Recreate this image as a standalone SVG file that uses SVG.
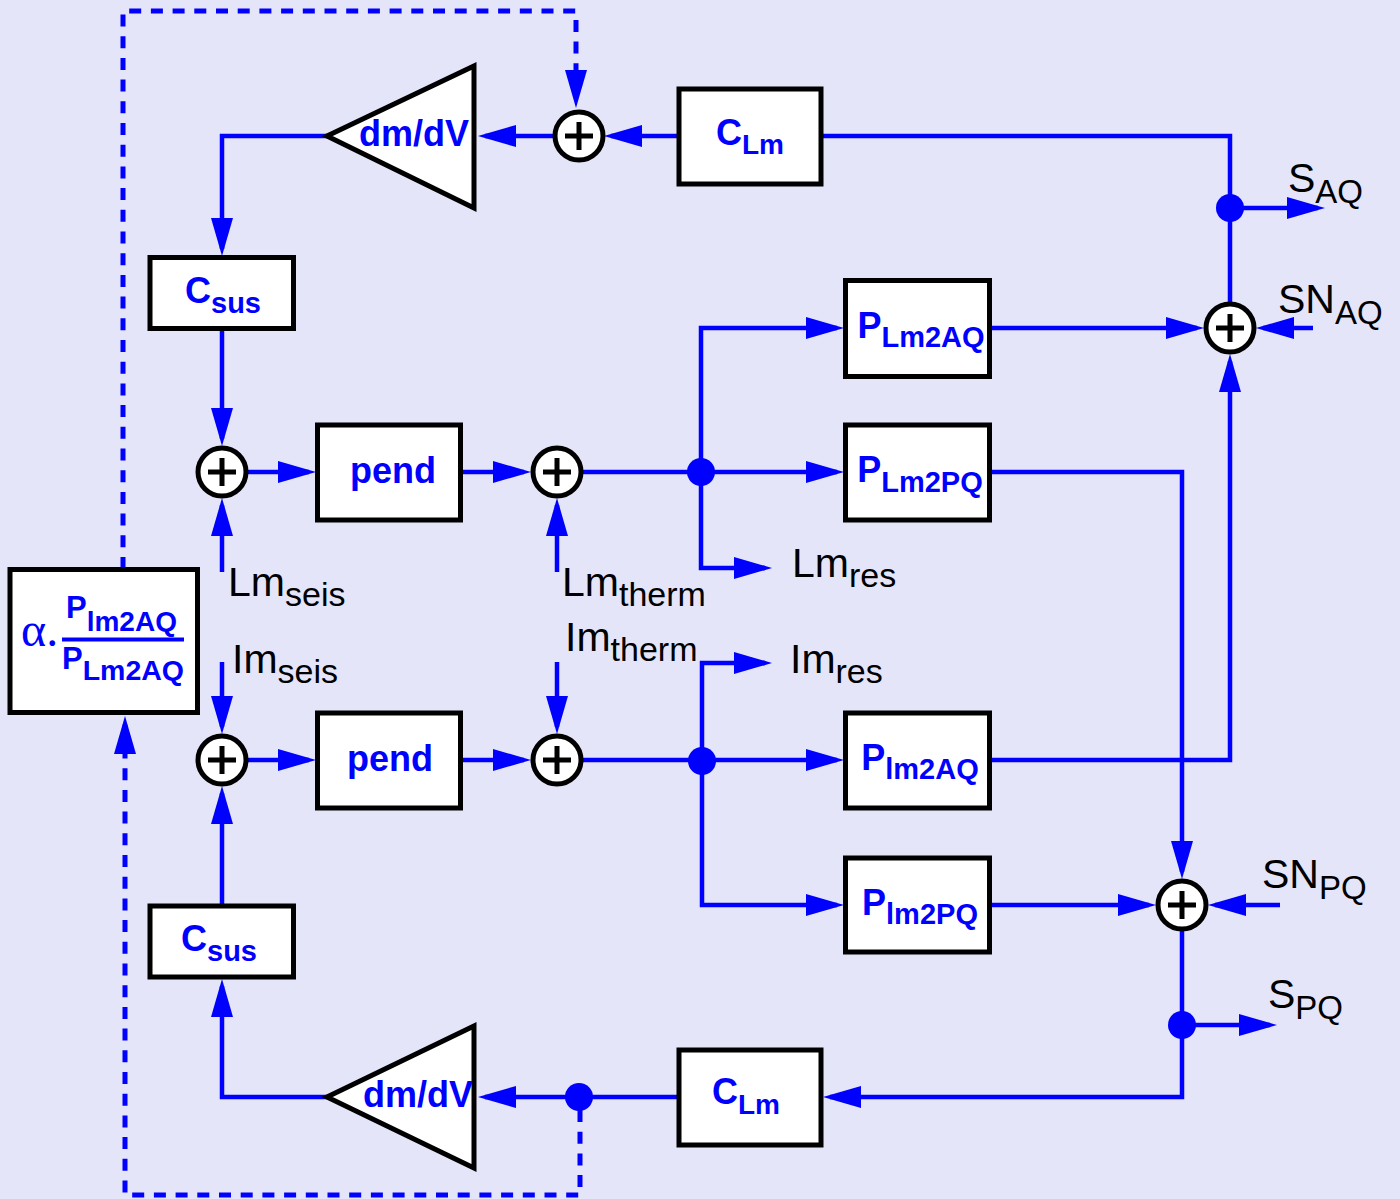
<svg xmlns="http://www.w3.org/2000/svg" xmlns:xlink="http://www.w3.org/1999/xlink" width="1400" height="1199" viewBox="0 0 1400 1199">
<style>
.box{fill:#fff;stroke:#000;stroke-width:5}
.wire{fill:none;stroke:#0000ff;stroke-width:4.5}
.dash{fill:none;stroke:#0000ff;stroke-width:5;stroke-dasharray:12 9.7}
.dot{fill:#0000ff}
.blk{font-family:"Liberation Sans",Arial,sans-serif;font-weight:bold;fill:#0000ff;font-size:36px;text-anchor:middle}
.blks{font-family:"Liberation Sans",Arial,sans-serif;font-weight:bold;fill:#0000ff;font-size:31px;text-anchor:start}
.sig{font-family:"Liberation Sans",Arial,sans-serif;fill:#000;font-size:41px}
</style>
<defs>
<marker id="arr" markerUnits="userSpaceOnUse" markerWidth="38" markerHeight="22" refX="31" refY="11" orient="auto">
<path d="M0,0 L38,11 L0,22 z" fill="#0000ff"/>
</marker>
<g id="sum">
<circle r="24" fill="#fff" stroke="#000" stroke-width="5"/>
<path d="M-14,0H14M0,-14V14" stroke="#000" stroke-width="5"/>
</g>
</defs>
<rect width="1400" height="1199" fill="#e5e5fa"/>

<g id="connectors">
<path class="wire" d="M679,136H611" marker-end="url(#arr)"/>
<path class="wire" d="M555,136H485" marker-end="url(#arr)"/>
<path class="wire" d="M327,136H222V249" marker-end="url(#arr)"/>
<path class="wire" d="M222,328V439" marker-end="url(#arr)"/>
<path class="wire" d="M222,572V505" marker-end="url(#arr)"/>
<path class="wire" d="M246,472H309" marker-end="url(#arr)"/>
<path class="wire" d="M460,472H524" marker-end="url(#arr)"/>
<path class="wire" d="M557,572V505" marker-end="url(#arr)"/>
<path class="wire" d="M581,472H837" marker-end="url(#arr)"/>
<path class="wire" d="M701,472V328H837" marker-end="url(#arr)"/>
<path class="wire" d="M701,472V568H765" marker-end="url(#arr)"/>
<path class="wire" d="M989,328H1197" marker-end="url(#arr)"/>
<path class="wire" d="M1313,328H1263" marker-end="url(#arr)"/>
<path class="wire" d="M989,760H1230V361" marker-end="url(#arr)"/>
<path class="wire" d="M1230,304V136H821"/>
<path class="wire" d="M1230,208H1318" marker-end="url(#arr)"/>
<path class="wire" d="M989,472H1182V872" marker-end="url(#arr)"/>
<path class="wire" d="M222,662V727" marker-end="url(#arr)"/>
<path class="wire" d="M222,906V793" marker-end="url(#arr)"/>
<path class="wire" d="M246,760H309" marker-end="url(#arr)"/>
<path class="wire" d="M460,760H524" marker-end="url(#arr)"/>
<path class="wire" d="M557,662V727" marker-end="url(#arr)"/>
<path class="wire" d="M581,760H837" marker-end="url(#arr)"/>
<path class="wire" d="M702,760V663H765" marker-end="url(#arr)"/>
<path class="wire" d="M702,760V905H837" marker-end="url(#arr)"/>
<path class="wire" d="M989,905H1149" marker-end="url(#arr)"/>
<path class="wire" d="M1280,905H1215" marker-end="url(#arr)"/>
<path class="wire" d="M1182,929V1097H830" marker-end="url(#arr)"/>
<path class="wire" d="M1182,1025H1270" marker-end="url(#arr)"/>
<path class="wire" d="M679,1097H485" marker-end="url(#arr)"/>
<path class="wire" d="M327,1097H222V986" marker-end="url(#arr)"/>
<path class="dash" d="M123,569V11H576V101" marker-end="url(#arr)"/>
<path class="dash" d="M580,1110V1195H125V723" marker-end="url(#arr)"/>
<circle class="dot" cx="1230" cy="208" r="14"/>
<circle class="dot" cx="701" cy="472" r="14"/>
<circle class="dot" cx="702" cy="761" r="14"/>
<circle class="dot" cx="1182" cy="1025" r="14"/>
<circle class="dot" cx="579" cy="1097" r="14"/>
</g>

<g id="sum_top"><use xlink:href="#sum" x="579" y="136"/></g>
<g id="sum_aq"><use xlink:href="#sum" x="1230" y="328"/></g>
<g id="sum_L1"><use xlink:href="#sum" x="222" y="472"/></g>
<g id="sum_L2"><use xlink:href="#sum" x="557" y="472"/></g>
<g id="sum_l1"><use xlink:href="#sum" x="222" y="760"/></g>
<g id="sum_l2"><use xlink:href="#sum" x="557" y="760"/></g>
<g id="sum_pq"><use xlink:href="#sum" x="1182" y="905"/></g>

<g id="dmdv_top">
<path class="box" d="M327,136L474,66V208Z"/>
<text class="blk" x="414" y="146">dm/dV</text>
</g>
<g id="dmdv_bot">
<path class="box" d="M327,1097L474,1026V1168Z"/>
<text class="blk" x="418" y="1107">dm/dV</text>
</g>
<g id="clm_top">
<rect class="box" x="679" y="89" width="142" height="95"/>
<text class="blk" x="750" y="145" font-size="37">C<tspan font-size="28" dy="9">Lm</tspan></text>
</g>
<g id="clm_bot">
<rect class="box" x="679" y="1050" width="142" height="95"/>
<text class="blk" x="746" y="1104" font-size="37">C<tspan font-size="28" dy="10">Lm</tspan></text>
</g>
<g id="csus_top">
<rect class="box" x="150" y="257.5" width="143.5" height="71"/>
<text class="blk" x="223" y="303" font-size="37">C<tspan font-size="29" dy="10">sus</tspan></text>
</g>
<g id="csus_bot">
<rect class="box" x="150" y="906" width="143.5" height="71"/>
<text class="blk" x="219" y="951" font-size="37">C<tspan font-size="29" dy="10">sus</tspan></text>
</g>
<g id="pend_top">
<rect class="box" x="317.5" y="425" width="143" height="95"/>
<text class="blk" x="393" y="483">pend</text>
</g>
<g id="pend_bot">
<rect class="box" x="317.5" y="713" width="143" height="95"/>
<text class="blk" x="390" y="771">pend</text>
</g>
<g id="p_Lm2AQ">
<rect class="box" x="845.5" y="280.5" width="144" height="96"/>
<text class="blk" x="921" y="338" font-size="35">P<tspan font-size="29" dy="9">Lm2AQ</tspan></text>
</g>
<g id="p_Lm2PQ">
<rect class="box" x="845.5" y="425" width="144" height="95"/>
<text class="blk" x="920" y="482" font-size="35">P<tspan font-size="29" dy="10">Lm2PQ</tspan></text>
</g>
<g id="p_lm2AQ">
<rect class="box" x="845.5" y="713" width="144" height="95"/>
<text class="blk" x="920" y="770" font-size="35">P<tspan font-size="29" dy="9">lm2AQ</tspan></text>
</g>
<g id="p_lm2PQ">
<rect class="box" x="845.5" y="858" width="144" height="94"/>
<text class="blk" x="920" y="915" font-size="35">P<tspan font-size="29" dy="9">lm2PQ</tspan></text>
</g>
<g id="alpha">
<rect class="box" x="10" y="569.5" width="187.5" height="143"/>
<text x="21" y="646" font-family="'Liberation Serif','DejaVu Serif',serif" font-size="48" fill="#0000ff">α.</text>
<text class="blks" x="66" y="618">P<tspan font-size="28" dy="13">lm2AQ</tspan></text>
<path d="M62,639.5H184" stroke="#0000ff" stroke-width="4"/>
<text class="blks" x="62" y="669">P<tspan font-size="28.5" dy="11">Lm2AQ</tspan></text>
</g>

<g id="labels">
<text class="sig" x="228" y="596">Lm<tspan font-size="34" dy="10">seis</tspan></text>
<text class="sig" x="562" y="596">Lm<tspan font-size="34" dy="10">therm</tspan></text>
<text class="sig" x="232" y="673">Im<tspan font-size="34" dy="10">seis</tspan></text>
<text class="sig" x="565" y="651">Im<tspan font-size="34" dy="10">therm</tspan></text>
<text class="sig" x="792" y="577">Lm<tspan font-size="34" dy="10">res</tspan></text>
<text class="sig" x="790" y="673">Im<tspan font-size="34" dy="10">res</tspan></text>
<text class="sig" x="1288" y="192">S<tspan font-size="33" dy="11">AQ</tspan></text>
<text class="sig" x="1278" y="313">SN<tspan font-size="33" dy="11">AQ</tspan></text>
<text class="sig" x="1262" y="888">SN<tspan font-size="33" dy="11">PQ</tspan></text>
<text class="sig" x="1268" y="1008">S<tspan font-size="33" dy="11">PQ</tspan></text>
</g>
</svg>
